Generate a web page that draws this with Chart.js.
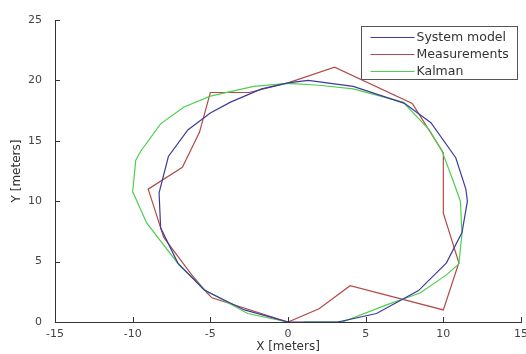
<!DOCTYPE html>
<html>
<head>
<meta charset="utf-8">
<script src="https://cdn.jsdelivr.net/npm/chart.js@4/dist/chart.umd.min.js"></script>
<style>
  html, body { margin: 0; padding: 0; background: #fff; }
  #wrap { width: 526px; height: 354px; position: relative; }
</style>
</head>
<body>
<div id="wrap"><canvas id="trackChart"></canvas></div>
<script>
// Trajectory data (meters)
const modelX = [0, 3.2, 5.7, 8.4, 10.2, 11.2, 11.55, 11.45, 10.8, 9.2, 7.5, 4.2, 1.3, 0, -1.7, -3.7, -5, -6.45, -7.7, -8.3, -8.2, -7.1, -5.4, -2.8, 0];
const modelY = [0, 0, 0.7, 2.6, 4.9, 7.4, 10.0, 11.0, 13.6, 16.5, 18.1, 19.5, 20.0, 19.8, 19.3, 18.2, 17.3, 15.9, 13.7, 10.7, 7.8, 4.9, 2.65, 1.0, 0];

const measX = [0, 2, 4, 10, 11, 10, 10, 8, 3, 0, -2.5, -5, -5.7, -6.8, -9, -8, -6.2, -5.2, -4.9, 0];
const measY = [0, 1.1, 3, 1, 4.9, 9, 14, 18.1, 21.1, 19.8, 19, 19, 15.7, 12.8, 11, 7, 3.9, 2.4, 2.0, 0];

const kalmanX = [1.0, 3.5, 6.3, 8.5, 10.2, 11.0, 11.2, 11.1, 10.6, 9.9, 9.1, 7.4, 4.2, 2.0, 0, -2.2, -5, -6.7, -8.2, -9.45, -9.8, -10, -9.1, -7, -5.3, -2.6, 0];
const kalmanY = [0, 0, 1.4, 2.4, 3.9, 4.8, 7.3, 10.0, 11.8, 14.2, 15.9, 18.2, 19.3, 19.6, 19.75, 19.5, 18.7, 17.8, 16.4, 14.2, 13.4, 10.8, 8.2, 4.7, 2.6, 0.7, 0];

const xTicks = [-15, -10, -5, 0, 5, 10, 15];
const yTicks = [0, 5, 10, 15, 20, 25];

function toPoints(xs, ys) {
    return xs.map((x, i) => ({ x: x, y: ys[i] }));
}

// MATLAB-like inward ticks + boxed legend
const matlabAxes = {
    id: "matlabAxes",
    afterDraw(chart) {
        const { ctx, chartArea: a, scales: { x, y } } = chart;
        ctx.save();
        ctx.strokeStyle = "#333";
        ctx.lineWidth = 1;
        ctx.beginPath();
        xTicks.forEach(v => {
            const px = Math.round(x.getPixelForValue(v)) + 0.5;
            ctx.moveTo(px, a.bottom);
            ctx.lineTo(px, a.bottom - 5);
        });
        yTicks.forEach(v => {
            const py = Math.round(y.getPixelForValue(v)) + 0.5;
            ctx.moveTo(a.left, py);
            ctx.lineTo(a.left + 5, py);
        });
        ctx.stroke();

        // legend box
        const bw = 156, bh = 53;
        const bx = Math.round(a.right - 4 - bw) + 0.5;
        const by = Math.round(a.top + 6) + 0.5;
        ctx.fillStyle = "#fff";
        ctx.fillRect(bx, by, bw, bh);
        ctx.strokeStyle = "#555";
        ctx.strokeRect(bx, by, bw, bh);
        ctx.font = "12.5px 'DejaVu Sans'";
        ctx.textBaseline = "middle";
        chart.data.datasets.forEach((ds, i) => {
            const ly = Math.round(by + 10 + i * 17) + 0.5;
            ctx.strokeStyle = ds.borderColor;
            ctx.lineWidth = 1.2;
            ctx.beginPath();
            ctx.moveTo(bx + 9, ly);
            ctx.lineTo(bx + 53, ly);
            ctx.stroke();
            ctx.fillStyle = "#333";
            ctx.fillText(ds.label, bx + 55, ly);
        });
        ctx.restore();
    }
};

const ctx = document.getElementById("trackChart").getContext("2d");
const trackChart = new Chart(ctx, {
    type: "scatter",
    data: {
        datasets: [
            {
                label: "System model",
                data: toPoints(modelX, modelY),
                borderColor: "#3b3b9e",
                order: 1
            },
            {
                label: "Measurements",
                data: toPoints(measX, measY),
                borderColor: "#b34a4a",
                order: 3
            },
            {
                label: "Kalman",
                data: toPoints(kalmanX, kalmanY),
                borderColor: "#4fcf4f",
                order: 2
            }
        ].map(ds => Object.assign(ds, {
            showLine: true,
            fill: false,
            borderWidth: 1.2,
            pointRadius: 0,
            pointHoverRadius: 0,
            tension: 0
        }))
    },
    options: {
        responsive: true,
        maintainAspectRatio: false,
        animation: false,
        events: [],
        layout: { padding: { top: 20, right: 5, left: 0, bottom: 0 } },
        plugins: {
            legend: { display: false },
            tooltip: { enabled: false }
        },
        scales: {
            x: {
                type: "linear",
                min: -15,
                max: 15,
                afterBuildTicks: s => { s.ticks = xTicks.map(v => ({ value: v })); },
                ticks: {
                    color: "#444",
                    font: { family: "'DejaVu Sans'", size: 11, lineHeight: 0.7 },
                    padding: 0,
                    maxRotation: 0
                },
                grid: { display: false },
                border: { display: true, color: "#333", width: 1 },
                title: {
                    display: true,
                    text: "X [meters]",
                    color: "#333",
                    font: { family: "'DejaVu Sans'", size: 12 },
                    padding: { top: 0, bottom: 0 }
                },
                afterFit: s => { s.height = 32; s.paddingLeft = 0; s.paddingRight = 0; }
            },
            y: {
                type: "linear",
                min: 0,
                max: 25,
                afterBuildTicks: s => { s.ticks = yTicks.map(v => ({ value: v })); },
                ticks: {
                    color: "#444",
                    font: { family: "'DejaVu Sans'", size: 11 },
                    padding: 5
                },
                grid: { display: false },
                border: { display: true, color: "#333", width: 1 },
                title: {
                    display: true,
                    text: "Y [meters]",
                    color: "#333",
                    font: { family: "'DejaVu Sans'", size: 12 },
                    padding: { top: 10, bottom: 0 }
                },
                afterFit: s => { s.width = 55; s.paddingTop = 0; s.paddingBottom = 0; }
            }
        }
    },
    plugins: [matlabAxes]
});
</script>
</body>
</html>
